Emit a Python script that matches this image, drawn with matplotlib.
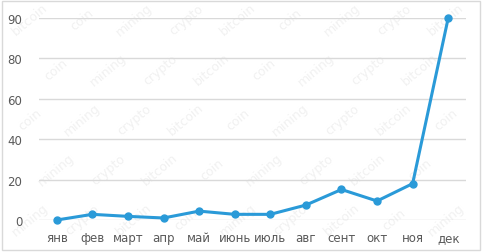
import numpy as np
import matplotlib.pyplot as plt

months = ["янв", "фев", "март", "апр", "май", "июнь", "июль", "авг", "сент", "окт", "ноя", "дек"]
values = [0, 2.8, 1.8, 1.0, 4.4, 2.8, 2.8, 7.4, 15.1, 9.4, 18, 90]
yticks = [0, 20, 40, 60, 80, 90]
words = ["bitcoin", "coin", "mining", "crypto"]

# the value axis is not linear: 80 -> 90 takes a full grid step
src = [-100, 0, 80, 90, 200]
dst = [-100, 0, 80, 100, 320]

def fwd(y):
    return np.interp(y, src, dst)

def inv(y):
    return np.interp(y, dst, src)

W, H = 482, 253
fig = plt.figure(figsize=(W / 100, H / 100), dpi=100)
fig.patch.set_facecolor("white")

# faint watermark words, kept behind the chart
k = 0
for row, yy in enumerate(range(20, 240, 50)):
    for xx in range(30 + (row % 2) * 26, 460, 52):
        fig.text(xx / W, 1 - yy / H, words[k % 4], rotation=40, fontsize=9,
                 color="#f1f1f1", ha="center", va="center", zorder=-5)
        k += 1

ax = fig.add_axes([39 / W, 1 - 221 / H, (466 - 39) / W, (221 - 19) / H])
ax.patch.set_alpha(0)
x = np.arange(len(months))
ax.plot(x, values, color="#2a9ad8", lw=2.2, marker="o", ms=5, clip_on=False, zorder=3)

ax.set_yscale("function", functions=(fwd, inv))
ax.set_ylim(0, 90)
ax.set_yticks(yticks)
ax.set_yticklabels([str(t) for t in yticks])
ax.set_xlim(-0.5, len(months) - 0.5)
ax.set_xticks(x)
ax.set_xticklabels(months)
ax.grid(axis="y", color="#d9d9d9", lw=1)
ax.set_axisbelow(True)
for s in ax.spines.values():
    s.set_visible(False)
ax.tick_params(length=0, labelsize=8.5, labelcolor="#595959")
ax.tick_params(axis="y", pad=12)
ax.tick_params(axis="x", pad=8)

# outer chart frame
fig.add_artist(plt.Rectangle((2 / W, 2 / H), (W - 4) / W, (H - 4) / H,
                             transform=fig.transFigure, fill=False,
                             edgecolor="#d9d9d9", lw=1))

fig.savefig("out.png", dpi=100)
